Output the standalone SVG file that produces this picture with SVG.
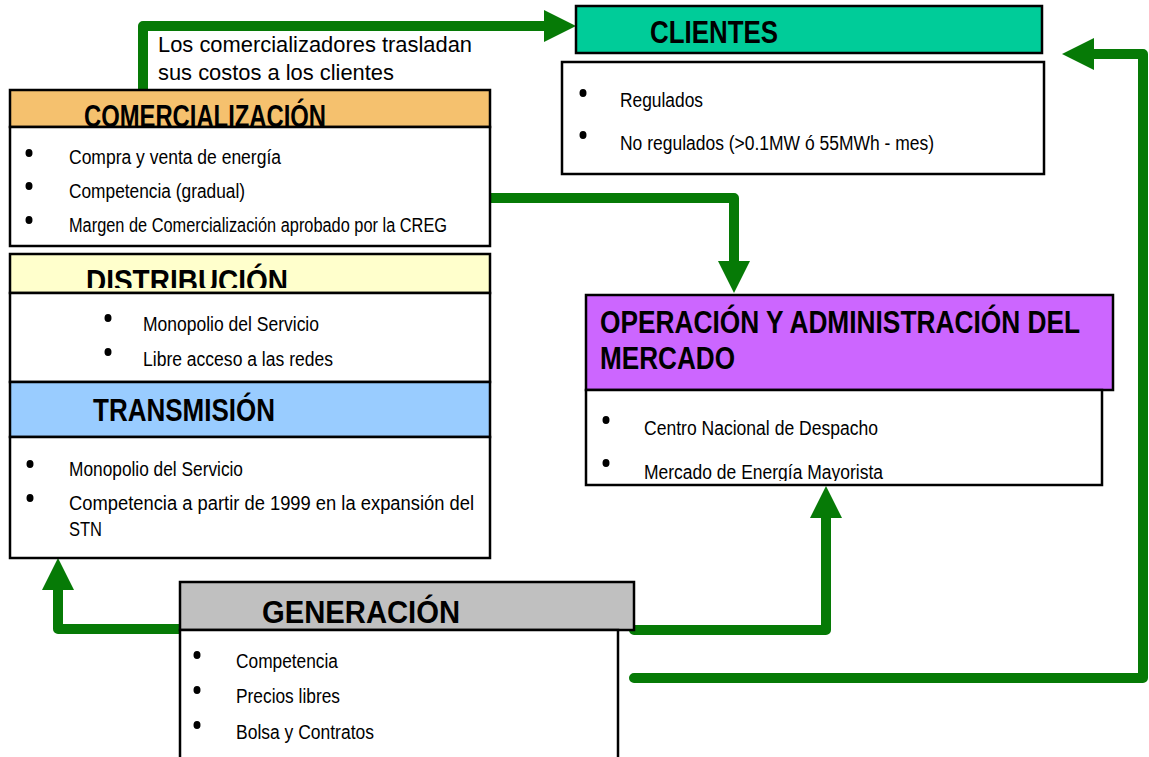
<svg xmlns="http://www.w3.org/2000/svg" width="1149" height="757" viewBox="0 0 1149 757">
<style>
.hd{stroke:#000;stroke-width:2.5}
.bd{fill:#fff;stroke:#000;stroke-width:2.5}
.ht{font-family:"Liberation Sans Narrow","Arial Narrow","Liberation Sans",Arial,sans-serif;font-weight:bold;font-size:32px;fill:#000}
.bt{font-family:"Liberation Sans Narrow","Arial Narrow","Liberation Sans",Arial,sans-serif;font-size:20px;fill:#000}
.lb{font-family:"Liberation Sans",Arial,sans-serif;font-size:22px;fill:#000}
.bu{fill:#000}
.cn{fill:none;stroke:#067A06;stroke-width:10;stroke-linejoin:round;stroke-linecap:round}
</style>
<defs>
<marker id="ah" viewBox="0 0 32 32" markerWidth="32" markerHeight="32" refX="0" refY="16" orient="auto" markerUnits="userSpaceOnUse" overflow="visible">
<path d="M0,0 L32,16 L0,32 Z" fill="#067A06"/>
</marker>
<clipPath id="cDist"><rect x="10" y="254" width="480" height="34"/></clipPath>
<clipPath id="cOp"><rect x="586" y="390" width="516" height="91"/></clipPath>
</defs>

<g id="connectors">
<path class="cn" d="M143,90 V26 H544" marker-end="url(#ah)"/>
<path class="cn" d="M490,198 H734 V261" marker-end="url(#ah)"/>
<path class="cn" d="M180,629 H58 V590" marker-end="url(#ah)"/>
<path class="cn" d="M634,630 H826 V518" marker-end="url(#ah)"/>
<path class="cn" d="M634,678 H1143 V54 H1094" marker-end="url(#ah)"/>
</g>

<text class="lb" x="158" y="52" textLength="314" lengthAdjust="spacingAndGlyphs">Los comercializadores trasladan</text>
<text class="lb" x="158" y="80" textLength="236" lengthAdjust="spacingAndGlyphs">sus costos a los clientes</text>

<g id="clientes">
<rect class="hd" x="576" y="6" width="466" height="47" fill="#00CC99"/>
<text class="ht" x="650" y="43" textLength="128" lengthAdjust="spacingAndGlyphs">CLIENTES</text>
<rect class="bd" x="562" y="62" width="482" height="112"/>
<ellipse class="bu" cx="583" cy="93" rx="3.5" ry="4"/>
<ellipse class="bu" cx="583" cy="135" rx="3.5" ry="4"/>
<text class="bt" x="620" y="107" textLength="83" lengthAdjust="spacingAndGlyphs">Regulados</text>
<text class="bt" x="620" y="150" textLength="314" lengthAdjust="spacingAndGlyphs">No regulados (&gt;0.1MW ó 55MWh - mes)</text>
</g>

<g id="comercializacion">
<rect class="hd" x="10" y="90" width="480" height="37" fill="#F5C16E"/>
<text class="ht" x="84" y="127" textLength="242" lengthAdjust="spacingAndGlyphs">COMERCIALIZACIÓN</text>
<rect class="bd" x="10" y="127" width="480" height="119"/>
<ellipse class="bu" cx="29" cy="153" rx="3.5" ry="4"/>
<ellipse class="bu" cx="29" cy="186" rx="3.5" ry="4"/>
<ellipse class="bu" cx="29" cy="220" rx="3.5" ry="4"/>
<text class="bt" x="69" y="164" textLength="212" lengthAdjust="spacingAndGlyphs">Compra y venta de energía</text>
<text class="bt" x="69" y="198" textLength="176" lengthAdjust="spacingAndGlyphs">Competencia (gradual)</text>
<text class="bt" x="69" y="232" font-size="18" textLength="378" lengthAdjust="spacingAndGlyphs">Margen de Comercialización aprobado por la CREG</text>
</g>

<g id="distribucion">
<rect class="hd" x="10" y="254" width="480" height="39" fill="#FFFFCC"/>
<text class="ht" x="86" y="292" clip-path="url(#cDist)" textLength="202" lengthAdjust="spacingAndGlyphs">DISTRIBUCIÓN</text>
<rect class="bd" x="10" y="293" width="480" height="89"/>
<ellipse class="bu" cx="108" cy="318" rx="3.5" ry="4"/>
<ellipse class="bu" cx="108" cy="352" rx="3.5" ry="4"/>
<text class="bt" x="143" y="331" textLength="176" lengthAdjust="spacingAndGlyphs">Monopolio del Servicio</text>
<text class="bt" x="143" y="366" textLength="190" lengthAdjust="spacingAndGlyphs">Libre acceso a las redes</text>
</g>

<g id="transmision">
<rect class="hd" x="10" y="382" width="480" height="55" fill="#99CCFF"/>
<text class="ht" x="93" y="421" textLength="182" lengthAdjust="spacingAndGlyphs">TRANSMISIÓN</text>
<rect class="bd" x="10" y="437" width="480" height="121"/>
<ellipse class="bu" cx="30" cy="464" rx="3.5" ry="4"/>
<ellipse class="bu" cx="30" cy="498" rx="3.5" ry="4"/>
<text class="bt" x="69" y="476" textLength="174" lengthAdjust="spacingAndGlyphs">Monopolio del Servicio</text>
<text class="bt" x="69" y="510" textLength="405" lengthAdjust="spacingAndGlyphs">Competencia a partir de 1999 en la expansión del</text>
<text class="bt" x="69" y="536" textLength="33" lengthAdjust="spacingAndGlyphs">STN</text>
</g>

<g id="operacion">
<rect class="hd" x="586" y="295" width="527" height="95" fill="#CC66FF"/>
<text class="ht" x="600" y="333" textLength="480" lengthAdjust="spacingAndGlyphs">OPERACIÓN Y ADMINISTRACIÓN DEL</text>
<text class="ht" x="600" y="369" textLength="135" lengthAdjust="spacingAndGlyphs">MERCADO</text>
<rect class="bd" x="586" y="390" width="516" height="95"/>
<ellipse class="bu" cx="606" cy="420" rx="3.5" ry="4"/>
<ellipse class="bu" cx="606" cy="463" rx="3.5" ry="4"/>
<text class="bt" x="644" y="435" textLength="234" lengthAdjust="spacingAndGlyphs">Centro Nacional de Despacho</text>
<text class="bt" x="644" y="479" clip-path="url(#cOp)" textLength="239" lengthAdjust="spacingAndGlyphs">Mercado de Energía Mayorista</text>
</g>

<g id="generacion">
<rect class="hd" x="180" y="582" width="454" height="48" fill="#C0C0C0"/>
<text class="ht" x="262" y="623" font-size="35" textLength="198" lengthAdjust="spacingAndGlyphs">GENERACIÓN</text>
<rect class="bd" x="180" y="630" width="438" height="135"/>
<ellipse class="bu" cx="197" cy="655" rx="3.5" ry="4"/>
<ellipse class="bu" cx="197" cy="690" rx="3.5" ry="4"/>
<ellipse class="bu" cx="197" cy="725" rx="3.5" ry="4"/>
<text class="bt" x="236" y="668" textLength="102" lengthAdjust="spacingAndGlyphs">Competencia</text>
<text class="bt" x="236" y="703" textLength="104" lengthAdjust="spacingAndGlyphs">Precios libres</text>
<text class="bt" x="236" y="739" textLength="138" lengthAdjust="spacingAndGlyphs">Bolsa y Contratos</text>
</g>
</svg>
